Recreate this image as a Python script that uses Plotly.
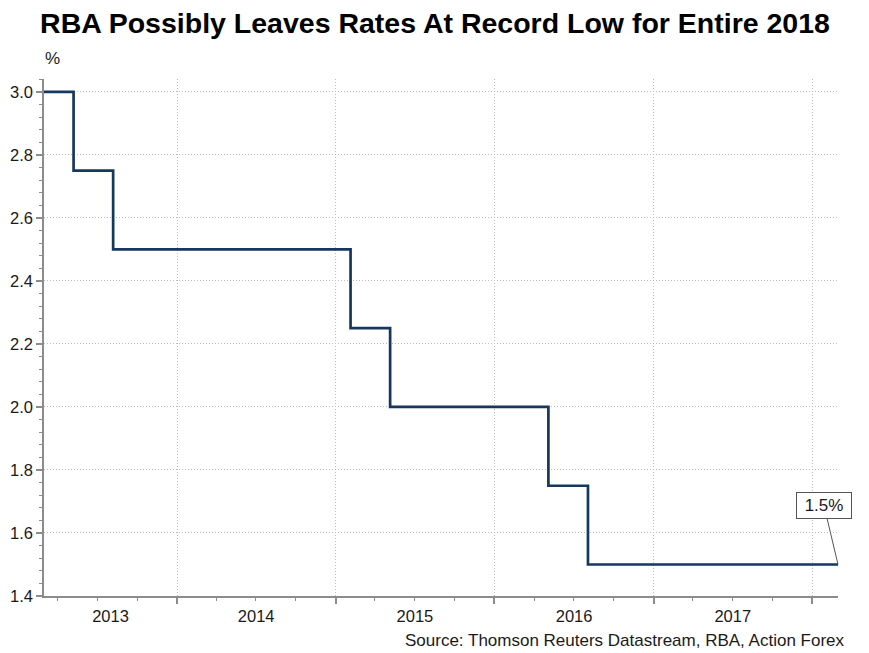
import plotly.graph_objects as go

# Data
change_dates = ["2013-03-01", "2013-05-08", "2013-08-07", "2015-02-04",
                "2015-05-06", "2016-05-04", "2016-08-03", "2018-03-01"]
cash_rate = [3.0, 2.75, 2.5, 2.25, 2.0, 1.75, 1.5, 1.5]
year_starts = ["2014-01-01", "2015-01-01", "2016-01-01", "2017-01-01", "2018-01-01"]
year_labels = ["2013", "2014", "2015", "2016", "2017"]
year_label_pos = ["2013-08-01", "2014-07-02", "2015-07-02", "2016-07-02", "2017-07-02"]
y_ticks = [1.4, 1.6, 1.8, 2.0, 2.2, 2.4, 2.6, 2.8, 3.0]

x_range = ["2013-03-01", "2018-03-01"]
navy = "#17375E"
axis_col = "#8c8c8c"
grid_col = "#bdbdbd"

W, H = 861, 645          # page body has an 8px margin
L, R, T, B = 36, 31, 71, 57
PW, PH = W - L - R, H - T - B

fig = go.Figure()
fig.add_trace(go.Scatter(
    x=change_dates, y=cash_rate, mode="lines", line_shape="hv",
    line=dict(color=navy, width=2.7), showlegend=False, hoverinfo="skip"))

# invisible trace on label axis
fig.add_trace(go.Scatter(x=x_range, y=[None, None], xaxis="x2", yaxis="y",
                         mode="lines", showlegend=False, hoverinfo="skip"))

fig.update_layout(
    width=W, height=H,
    margin=dict(l=L, r=R, t=T, b=B, autoexpand=False),
    paper_bgcolor="white", plot_bgcolor="white",
    font=dict(family="Arial, Liberation Sans, sans-serif", color="#1a1a1a", size=16),
    title=dict(text="<b>RBA Possibly Leaves Rates At Record Low for Entire 2018</b>",
               x=(435 - 8) / W, xref="container", xanchor="center",
               y=1 - 15 / H, yref="container", yanchor="middle",
               font=dict(size=28.5, color="#000000")),
    xaxis=dict(type="date", range=x_range, tickvals=year_starts,
               ticktext=[""] * len(year_starts), automargin=False,
               showgrid=True, gridcolor=grid_col, griddash="1px,2px", gridwidth=1,
               showline=True, linecolor=axis_col, linewidth=1.5,
               ticks="outside", ticklen=6, tickcolor=axis_col, tickwidth=1.5,
               minor=dict(dtick="M3", tick0="2013-01-01", ticks="outside", ticklen=3,
                          tickcolor=axis_col, tickwidth=1.2, showgrid=False),
               zeroline=False, fixedrange=True),
    xaxis2=dict(type="date", range=x_range, overlaying="x", anchor="y", side="bottom",
                tickvals=year_label_pos, ticktext=year_labels, ticks="",
                automargin=False,
                showgrid=False, showline=False, zeroline=False,
                tickfont=dict(size=16.5), ticklabelstandoff=8),
    yaxis=dict(range=[1.4, 3.041], tickvals=y_ticks, automargin=False,
               tickformat=".1f",
               showgrid=True, gridcolor=grid_col, griddash="1px,2px", gridwidth=1,
               showline=True, linecolor=axis_col, linewidth=1.5,
               ticks="outside", ticklen=6, tickcolor=axis_col, tickwidth=1.5,
               minor=dict(dtick=0.04, tick0=1.4, ticks="outside", ticklen=3,
                          tickcolor=axis_col, tickwidth=1.2, showgrid=False),
               tickfont=dict(size=16.5), ticklabelstandoff=0, zeroline=False),
)

fig.add_annotation(text="%", xref="paper", yref="paper",
                   x=(52 - 8 - L) / PW, y=(T + PH - (58 - 8)) / PH,
                   xanchor="center", yanchor="middle", showarrow=False,
                   font=dict(size=17))

fig.add_annotation(text="Source: Thomson Reuters Datastream, RBA, Action Forex",
                   xref="paper", yref="paper",
                   x=(847 - 8 - L) / PW, y=(T + PH - (640 - 8)) / PH,
                   xanchor="right", yanchor="middle", showarrow=False,
                   font=dict(size=17))

fig.add_annotation(text="1.5%", x=change_dates[-1], y=cash_rate[-1], xref="x", yref="y",
                   showarrow=True, arrowhead=0, arrowwidth=1, arrowcolor="#555555",
                   ax=-14, ay=-59, bordercolor="#555555", borderwidth=1,
                   width=50, height=21, borderpad=2, bgcolor="white",
                   font=dict(size=17))

fig.write_html("out.html")
